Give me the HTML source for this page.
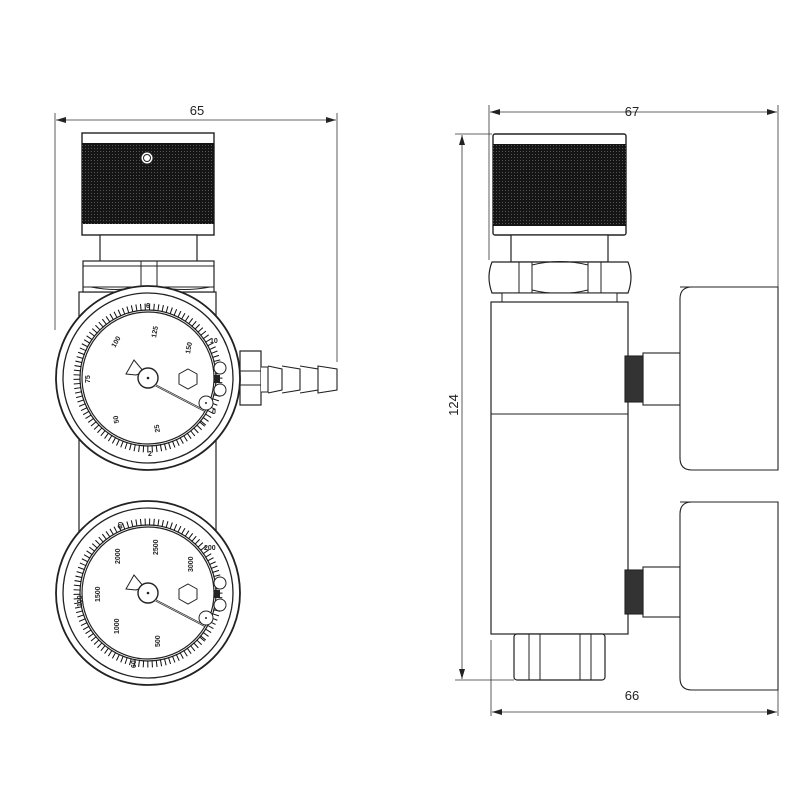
<!DOCTYPE html>
<html><head><meta charset="utf-8"><style>
html,body{margin:0;padding:0;background:#fff}
svg{display:block}
text{font-family:"Liberation Sans",sans-serif}
</style></head><body>
<svg width="800" height="800" viewBox="0 0 800 800" xmlns="http://www.w3.org/2000/svg">
<defs>
<pattern id="kn" width="3" height="3" patternUnits="userSpaceOnUse">
<rect width="3" height="3" fill="#151515"/><rect x="1" y="1" width="1" height="1" fill="#555"/>
</pattern>
<marker id="ar" viewBox="0 0 10 6" refX="10" refY="3" markerWidth="10" markerHeight="6" orient="auto-start-reverse" markerUnits="userSpaceOnUse">
<path d="M0,0 L10,3 L0,6 z" fill="#222"/></marker>
<g id="gauge">
<circle r="92" fill="#fff" stroke="#222" stroke-width="1.8"/>
<circle r="85" fill="none" stroke="#222" stroke-width="1.3"/>
<circle r="66" fill="none" stroke="#222" stroke-width="1.2"/>
<circle r="68" fill="none" stroke="#222" stroke-width="1.2"/>
<circle r="71" fill="none" stroke="#111" stroke-width="7" stroke-dasharray="1 3.4" transform="rotate(40)"/>
<path d="M-12,-3 L-22,-4 L-14,-18 L-4,-6 z" fill="#fff" stroke="#222"/>
<circle r="10" fill="#fff" stroke="#222" stroke-width="1.4"/>
<circle r="1.3" fill="#222"/>
<line x1="7" y1="7" x2="57" y2="33" stroke="#222" stroke-width="2"/>
<line x1="7" y1="7" x2="57" y2="33" stroke="#fff" stroke-width="0.6"/>
<circle cx="58" cy="25" r="7" fill="#fff" stroke="#222"/>
<circle cx="58" cy="25" r="1" fill="#222"/>
<path d="M40,-9 L49,-4 L49,6 L40,11 L31,6 L31,-4 z" fill="#fff" stroke="#222"/>
<circle cx="72" cy="-10" r="6" fill="#fff" stroke="#222"/>
<circle cx="72" cy="12" r="6" fill="#fff" stroke="#222"/>
<rect x="66" y="-3" width="6" height="8" fill="#222"/>
</g>
</defs>

<!-- LEFT VIEW -->
<line x1="55" y1="113" x2="55" y2="330" stroke="#333" stroke-width="0.8"/>
<line x1="337" y1="113" x2="337" y2="362" stroke="#333" stroke-width="0.8"/>
<line x1="56" y1="120" x2="336" y2="120" stroke="#333" stroke-width="0.8" marker-start="url(#ar)" marker-end="url(#ar)"/>
<text x="197" y="115" font-size="13" text-anchor="middle" fill="#222">65</text>

<rect x="79" y="292" width="137" height="245" fill="#fff" stroke="#222" stroke-width="1.2"/>
<rect x="82" y="133" width="132" height="102" fill="#fff" stroke="#222" stroke-width="1.4"/>
<rect x="82" y="143" width="132" height="81" fill="url(#kn)"/>
<circle cx="147" cy="158" r="6" fill="#fff" stroke="#222"/>
<circle cx="147" cy="158" r="3.5" fill="#fff" stroke="#222"/>
<rect x="100" y="235" width="97" height="27" fill="#fff" stroke="#222" stroke-width="1.2"/>
<rect x="83" y="261" width="131" height="31" fill="#fff" stroke="#222" stroke-width="1.2"/>
<line x1="83" y1="266" x2="214" y2="266" stroke="#222"/>
<line x1="83" y1="287" x2="214" y2="287" stroke="#222"/>
<line x1="141" y1="261" x2="141" y2="292" stroke="#222"/>
<line x1="157" y1="261" x2="157" y2="292" stroke="#222"/>
<path d="M91,287 Q116,292 141,287 M157,287 Q185,292 210,287" fill="none" stroke="#222"/>
<rect x="240" y="351" width="21" height="54" fill="#fff" stroke="#222" stroke-width="1.2"/>
<line x1="240" y1="371" x2="261" y2="371" stroke="#222"/>
<line x1="240" y1="385" x2="261" y2="385" stroke="#222"/>
<path d="M261,367 L268,367 L268,392 L261,392 M268,366 L282,369 L282,390 L268,393 M282,366 L300,369 L300,390 L282,393 M300,366 L318,369 L318,390 L300,393 M318,366 L337,369 L337,390 L318,393 z" fill="#fff" stroke="#222" stroke-width="1.1"/>
<use href="#gauge" x="148" y="378"/>
<g font-size="7" font-weight="bold" fill="#222">
<text x="148" y="308" text-anchor="middle">6</text>
<text x="156" y="338" transform="rotate(-80 156 338)">125</text>
<text x="115" y="348" transform="rotate(-60 115 348)">100</text>
<text x="90" y="383" transform="rotate(-90 90 383)">75</text>
<text x="119" y="423" transform="rotate(-100 119 423)">50</text>
<text x="160" y="432" transform="rotate(-100 160 432)">25</text>
<text x="190" y="354" transform="rotate(-80 190 354)">150</text>
<text x="210" y="343">10</text>
<text x="148" y="456">2</text>
<text x="212" y="414">0</text>
</g>
<use href="#gauge" x="148" y="593"/>
<g font-size="7" font-weight="bold" fill="#222">
<text x="122" y="530" transform="rotate(-80 122 530)">40</text>
<text x="158" y="555" transform="rotate(-90 158 555)">2500</text>
<text x="120" y="564" transform="rotate(-90 120 564)">2000</text>
<text x="100" y="602" transform="rotate(-90 100 602)">1500</text>
<text x="82" y="607" transform="rotate(-90 82 607)">100</text>
<text x="119" y="634" transform="rotate(-90 119 634)">1000</text>
<text x="160" y="647" transform="rotate(-90 160 647)">500</text>
<text x="136" y="668" transform="rotate(-90 136 668)">60</text>
<text x="193" y="572" transform="rotate(-90 193 572)">3000</text>
<text x="204" y="550">200</text>
</g>

<!-- RIGHT VIEW -->
<line x1="489" y1="105" x2="489" y2="260" stroke="#333" stroke-width="0.8"/>
<line x1="778" y1="105" x2="778" y2="287" stroke="#333" stroke-width="0.8"/>
<line x1="490" y1="112" x2="777" y2="112" stroke="#333" stroke-width="0.8" marker-start="url(#ar)" marker-end="url(#ar)"/>
<text x="632" y="116" font-size="13" text-anchor="middle" fill="#222">67</text>

<line x1="455" y1="134" x2="492" y2="134" stroke="#333" stroke-width="0.8"/>
<line x1="455" y1="680" x2="514" y2="680" stroke="#333" stroke-width="0.8"/>
<line x1="462" y1="135" x2="462" y2="679" stroke="#333" stroke-width="0.8" marker-start="url(#ar)" marker-end="url(#ar)"/>
<text x="458" y="405" font-size="13" text-anchor="middle" fill="#222" transform="rotate(-90 458 405)">124</text>

<line x1="491" y1="640" x2="491" y2="716" stroke="#333" stroke-width="0.8"/>
<line x1="778" y1="690" x2="778" y2="716" stroke="#333" stroke-width="0.8"/>
<line x1="492" y1="712" x2="777" y2="712" stroke="#333" stroke-width="0.8" marker-start="url(#ar)" marker-end="url(#ar)"/>
<text x="632" y="700" font-size="13" text-anchor="middle" fill="#222">66</text>

<rect x="493" y="134" width="133" height="101" rx="2" fill="#fff" stroke="#222" stroke-width="1.4"/>
<rect x="493" y="144" width="133" height="82" fill="url(#kn)"/>
<rect x="511" y="235" width="97" height="27" fill="#fff" stroke="#222" stroke-width="1.2"/>
<path d="M492,262 L628,262 Q634,277 628,293 L492,293 Q486,277 492,262 z" fill="#fff" stroke="#222" stroke-width="1.2"/>
<line x1="519" y1="262" x2="519" y2="293" stroke="#222"/>
<line x1="532" y1="262" x2="532" y2="293" stroke="#222"/>
<line x1="588" y1="262" x2="588" y2="293" stroke="#222"/>
<line x1="601" y1="262" x2="601" y2="293" stroke="#222"/>
<path d="M532,265 Q560,258 588,265 M532,290 Q560,297 588,290" fill="none" stroke="#222"/>
<rect x="502" y="293" width="115" height="9" fill="#fff" stroke="#222"/>
<rect x="491" y="302" width="137" height="332" fill="#fff" stroke="#222" stroke-width="1.2"/>
<line x1="491" y1="414" x2="628" y2="414" stroke="#222"/>
<rect x="514" y="634" width="91" height="46" rx="3" fill="#fff" stroke="#222" stroke-width="1.2"/>
<line x1="529" y1="634" x2="529" y2="680" stroke="#222"/>
<line x1="540" y1="634" x2="540" y2="680" stroke="#222"/>
<line x1="580" y1="634" x2="580" y2="680" stroke="#222"/>
<line x1="591" y1="634" x2="591" y2="680" stroke="#222"/>
<g stroke="#222" stroke-width="1.1" fill="#fff">
<rect x="643" y="353" width="37" height="52"/>
<rect x="625" y="356" width="18" height="46" fill="#333"/>
<rect x="643" y="567" width="37" height="50"/>
<rect x="625" y="570" width="18" height="44" fill="#333"/>
<path d="M680,287 L778,287 L778,470 L692,470 Q680,470 680,458 L680,299 Q680,287 692,287 z"/>
<path d="M680,502 L778,502 L778,690 L692,690 Q680,690 680,678 L680,514 Q680,502 692,502 z"/>
</g>
</svg>
</body></html>
